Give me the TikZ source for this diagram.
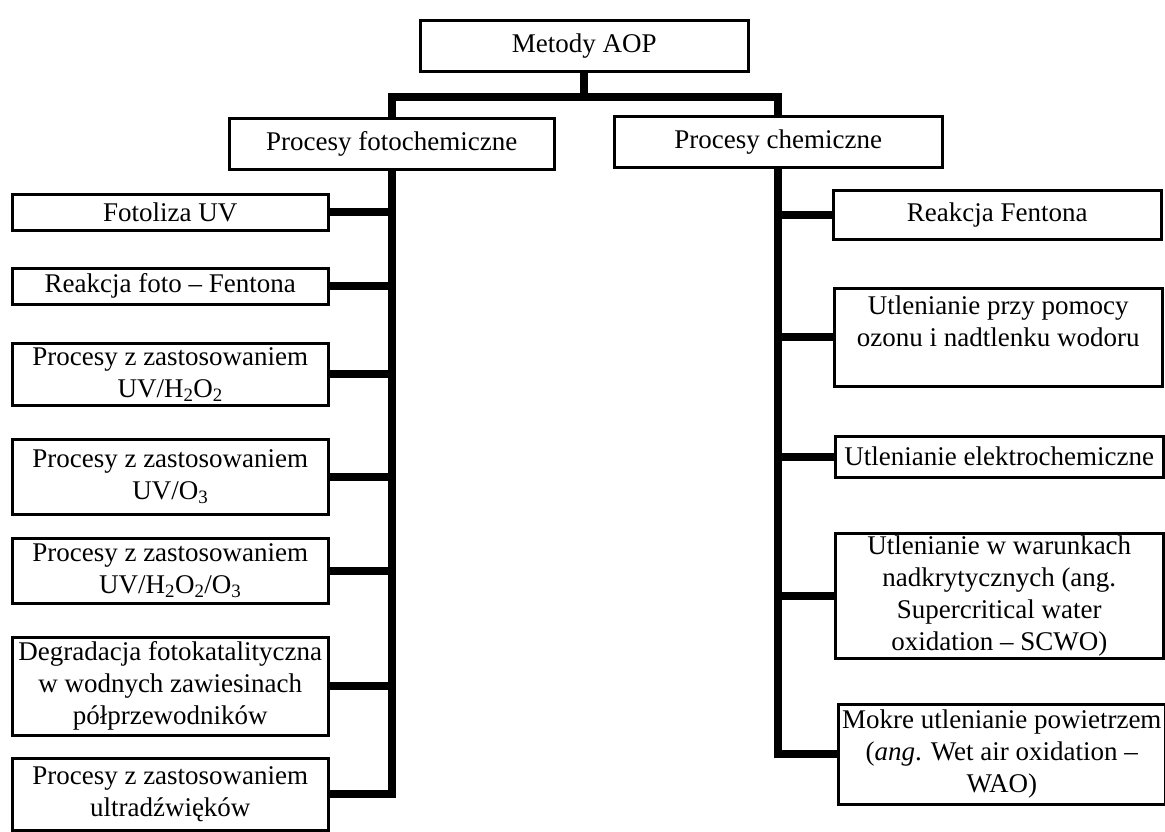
\documentclass[tikz,border=0pt]{standalone}
\usepackage{fontspec}
\setmainfont{Liberation Serif}

\begin{document}
\begin{tikzpicture}[
    x=1pt,y=-1pt,
    font=\fontsize{27}{32}\selectfont,
    base/.style={rectangle,draw,line width=2.5pt,inner sep=2pt,align=center,anchor=north west},
    headbox/.style={base,minimum width=328pt,minimum height=51pt},
    leftbox/.style={base,minimum width=316pt},
    rightbox/.style={base,minimum width=328pt},
    link/.style={line width=8pt}
  ]
  \useasboundingbox (0,0) rectangle (1165,831);

  \node(aop) [headbox] at (419,19) {Metody AOP};
  \node(foto) [headbox,minimum width=325pt] at (228,117) {Procesy fotochemiczne};
  \node(chem) [headbox] at (613,115) {Procesy chemiczne};

  % procesy fotochemiczne
  \node(l1) [leftbox,minimum height=36pt] at (11,193) {Fotoliza UV};
  \node(l2) [leftbox,minimum height=36pt] at (11,267) {Reakcja foto -- Fentona};
  \node(l3) [leftbox,minimum height=62pt] at (11,342) {Procesy z zastosowaniem\\UV/H\textsubscript{2}O\textsubscript{2}};
  \node(l4) [leftbox,minimum height=75pt] at (11,438) {Procesy z zastosowaniem\\UV/O\textsubscript{3}};
  \node(l5) [leftbox,minimum height=65pt] at (11,537) {Procesy z zastosowaniem\\UV/H\textsubscript{2}O\textsubscript{2}/O\textsubscript{3}};
  \node(l6) [leftbox,minimum height=98pt] at (11,636) {Degradacja fotokatalityczna\\w wodnych zawiesinach\\półprzewodników};
  \node(l7) [leftbox,minimum height=72pt] at (11,757) {Procesy z zastosowaniem\\ultradźwięków};

  % procesy chemiczne
  \node(r1) [rightbox,minimum height=49pt] at (832,189) {Reakcja Fentona};
  \node(r2) [rightbox,minimum height=98pt] at (833,287) {Utlenianie przy pomocy\\ozonu i nadtlenku wodoru\\~};
  \node(r3) [rightbox,minimum height=41pt] at (834,435) {Utlenianie elektrochemiczne};
  \node(r4) [rightbox,minimum height=125pt] at (834,532) {Utlenianie w warunkach\\nadkrytycznych (ang.\\Supercritical water\\oxidation -- SCWO)};
  \node(r5) [rightbox,minimum width=327pt,minimum height=100pt] at (837,703) {Mokre utlenianie powietrzem\\(\textit{ang}. Wet air oxidation --\\WAO)};

  \draw[link] (aop.south) -- ++(0,24) -| (foto.north);
  \draw[link] (aop.south) -- ++(0,24) -| (chem.north);

  \draw[link] (foto.south) -- (foto.south |- l7.east) -- (l7.east);
  \foreach \n in {l1,l2,l3,l4,l5,l6}
    \draw[link] (\n.east) -- (\n.east -| foto.south);

  \draw[link] (chem.south) -- (chem.south |- r5.west) -- (r5.west);
  \foreach \n in {r1,r2,r3,r4}
    \draw[link] (\n.west) -- (\n.west -| chem.south);

\end{tikzpicture}
\end{document}
